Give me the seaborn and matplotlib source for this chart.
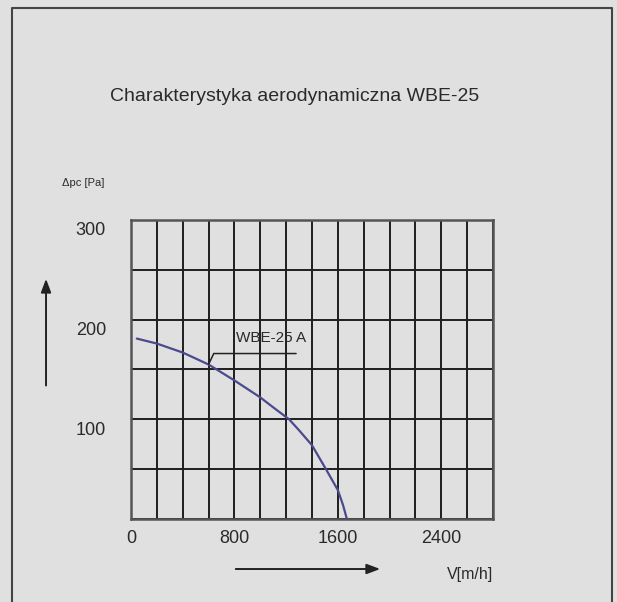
import numpy as np
import pandas as pd
import seaborn as sns
import matplotlib.pyplot as plt
from matplotlib.ticker import MultipleLocator
from matplotlib.transforms import ScaledTranslation
from matplotlib.patches import FancyArrowPatch

# curve of the fan
flow = [45, 200, 400, 600, 800, 1000, 1100, 1223, 1300, 1400, 1508, 1600, 1640, 1670]
pressure = [181, 176, 167, 155, 139, 122, 112, 100, 89, 74, 50, 29, 14, 0]

x_ticks = [0, 800, 1600, 2400]
y_ticks = [100, 200, 300]

title = "Charakterystyka aerodynamiczna WBE-25"
curve_name = "WBE-25 A"
leader_x = [600, 640, 1277]
leader_y = [155, 166, 166]

bg = "#e0e0e0"
line_col = "#4b4a8c"
txt = "#2a2a2a"

sns.set_style("white", {"axes.facecolor": bg, "figure.facecolor": bg})
plt.rcParams['font.family'] = ['Liberation Sans Narrow', 'Liberation Sans', 'DejaVu Sans']

fig = plt.figure(figsize=(6.17, 6.02), dpi=100)
ax = fig.add_axes([0.2123, 0.1379, 0.5867, 0.4967])

df = pd.DataFrame({"V": flow, "dp": pressure})
sns.lineplot(data=df, x="V", y="dp", ax=ax, color=line_col, lw=1.6, zorder=3)

ax.set_xlim(0, 2800)
ax.set_ylim(0, 300)
ax.xaxis.set_major_locator(plt.FixedLocator(x_ticks))
ax.xaxis.set_minor_locator(MultipleLocator(200))
ax.yaxis.set_major_locator(plt.FixedLocator(y_ticks))
ax.yaxis.set_minor_locator(MultipleLocator(50))
ax.grid(True, which="both", color="#1e1e1e", lw=1.4)
ax.tick_params(which="both", length=0, labelsize=13, colors=txt)
ax.tick_params(axis="y", pad=18)
ax.tick_params(axis="x", pad=8)
for sp in ax.spines.values():
    sp.set_color("#555555")
    sp.set_linewidth(1.8)
ax.set_xlabel("")
ax.set_ylabel("")

# y labels sit a bit below their lines
off = ScaledTranslation(0, -9 / 100, fig.dpi_scale_trans)
for lbl in ax.get_yticklabels():
    lbl.set_transform(lbl.get_transform() + off)

# leader to the curve label
ax.plot(leader_x, leader_y, color="#222222", lw=1.1, zorder=4)
ax.text(810, 182, curve_name, fontsize=11, color=txt, va="center", ha="left")

fig.text(0.478, 0.839, title, fontsize=14, color=txt, ha="center", va="center")
fig.text(0.100, 0.696, "Δpc [Pa]", fontsize=8, color=txt, ha="left", va="center")
fig.text(0.762, 0.045, "V[m/h]", fontsize=11.5, color=txt, ha="center", va="center")

# arrows beside the axes
fig.add_artist(FancyArrowPatch(
    (0.0746, 0.355), (0.0746, 0.5415), transform=fig.transFigure,
    arrowstyle="-|>,head_length=8,head_width=3", color="#222222", lw=1.4))
fig.add_artist(FancyArrowPatch(
    (0.3776, 0.0548), (0.6207, 0.0548), transform=fig.transFigure,
    arrowstyle="-|>,head_length=8,head_width=3", color="#222222", lw=1.4))

# frame round the drawing
fx = [0.0194, 0.0194, 0.992, 0.992]
fy = [0.0, 0.9867, 0.9867, 0.0]
fig.add_artist(plt.Line2D(fx, fy, transform=fig.transFigure, color="#444444", lw=1.5))

fig.savefig("out.png", dpi=100, facecolor=bg)
